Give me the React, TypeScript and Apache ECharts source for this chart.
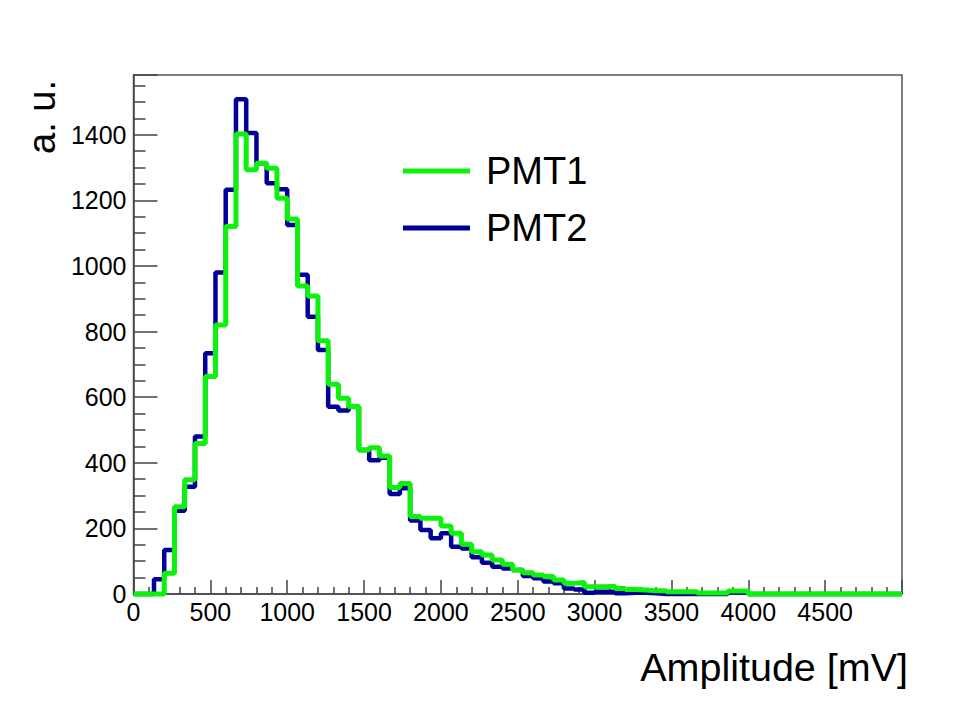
import React, { useEffect, useRef } from "react";
import * as echarts from "echarts";

// Histogram range and binning (75 bins from 0 to 5000 mV)
const histMin = 0;
const histMax = 5000;
const binCount = 75;

// PMT1 (green) bin contents
const pmt1Counts = [
  0, 0, 0, 63, 266, 348, 459, 663, 820, 1120,
  1402, 1293, 1313, 1298, 1206, 1143, 939, 908, 772, 639,
  597, 571, 439, 446, 421, 325, 337, 236, 231, 231,
  207, 185, 152, 129, 119, 104, 91, 73, 65, 58,
  53, 43, 33, 35, 22, 22, 24, 17, 14, 12,
  10, 10, 7, 7, 7, 3, 3, 3, 9, 9,
  0, 0, 0, 0, 0, 0, 0, 0, 0, 0,
  0, 0, 0, 0, 0,
];

// PMT2 (dark blue) bin contents
const pmt2Counts = [
  0, 0, 45, 134, 254, 327, 480, 734, 980, 1232,
  1508, 1405, 1313, 1252, 1234, 1125, 973, 845, 744, 571,
  559, 571, 439, 408, 415, 305, 322, 224, 195, 170,
  185, 144, 139, 112, 95, 83, 78, 73, 55, 48,
  38, 33, 17, 14, 4, 7, 7, 2, 4, 4,
  2, 0, 0, 0, 0, 0, 0, 0, 5, 5,
  0, 0, 0, 0, 0, 0, 0, 0, 0, 0,
  0, 0, 0, 0, 0,
];

const seriesNames = ["PMT1", "PMT2"];
const xTitle = "Amplitude [mV]";
const yTitle = "a. u.";
const yMax = 1582;

function stepData(counts: number[]): [number, number][] {
  const w = (histMax - histMin) / binCount;
  const pts: [number, number][] = counts.map((c, k) => [histMin + k * w, c]);
  pts.push([histMax, counts[counts.length - 1]]);
  return pts;
}

const FONT = "'Liberation Sans', Arial, Helvetica, sans-serif";

export default function App() {
  const ref = useRef<HTMLDivElement>(null);
  useEffect(() => {
    if (!ref.current) return;
    const chart = echarts.init(ref.current, undefined, { renderer: "svg" });
    const axisColor = "#444";
    chart.setOption({
      animation: false,
      backgroundColor: "#ffffff",
      grid: {
        left: 133.5,
        right: 58,
        top: 75,
        bottom: 126,
        show: true,
        borderColor: "#555",
        borderWidth: 1.5,
        backgroundColor: "transparent",
      },
      legend: {
        data: seriesNames,
        orient: "vertical",
        left: 403,
        top: 150,
        padding: 0,
        icon: "rect",
        itemWidth: 67,
        itemHeight: 5,
        itemGap: 15,
        textStyle: {
          fontFamily: FONT,
          fontSize: 38,
          color: "#000",
          lineHeight: 42,
          padding: [0, 0, 0, 11],
        },
      },
      xAxis: {
        type: "value",
        min: histMin,
        max: histMax,
        interval: 500,
        splitLine: { show: false },
        axisLine: { show: true, lineStyle: { color: axisColor, width: 1.5 } },
        axisTick: { show: true, inside: true, length: 14, lineStyle: { color: axisColor, width: 1.5 } },
        minorTick: { show: true, splitNumber: 5, length: 7, lineStyle: { color: axisColor, width: 1.5 } },
        axisLabel: {
          showMaxLabel: false,
          formatter: (v: number) => String(v),
          fontFamily: FONT,
          fontSize: 25,
          color: "#000",
          margin: 5,
        },
      },
      yAxis: {
        type: "value",
        min: 0,
        max: yMax,
        interval: 200,
        splitLine: { show: false },
        axisLine: { show: true, lineStyle: { color: axisColor, width: 1.5 } },
        axisTick: { show: true, inside: true, length: 24, lineStyle: { color: axisColor, width: 1.5 } },
        minorTick: { show: true, splitNumber: 4, length: 12, lineStyle: { color: axisColor, width: 1.5 } },
        axisLabel: {
          showMaxLabel: false,
          formatter: (v: number) => String(v),
          fontFamily: FONT,
          fontSize: 25,
          color: "#000",
          margin: 7,
        },
      },
      graphic: [
        {
          type: "text",
          x: 908,
          y: 667,
          style: {
            text: xTitle,
            fontFamily: FONT,
            fontSize: 39.5,
            fill: "#000",
            align: "right",
            verticalAlign: "middle",
          },
        },
        {
          type: "text",
          x: 42,
          y: 117,
          rotation: Math.PI / 2,
          style: {
            text: yTitle,
            fontFamily: FONT,
            fontSize: 38,
            fill: "#000",
            align: "center",
            verticalAlign: "middle",
          },
        },
      ],
      series: [
        {
          name: seriesNames[1],
          type: "line",
          step: "end",
          data: stepData(pmt2Counts),
          showSymbol: false,
          symbol: "none",
          clip: false,
          color: "#000099",
          itemStyle: { color: "#000099" },
          lineStyle: { color: "#000099", width: 4.5 },
          z: 3,
        },
        {
          name: seriesNames[0],
          type: "line",
          step: "end",
          data: stepData(pmt1Counts),
          showSymbol: false,
          symbol: "none",
          clip: false,
          color: "#0cf20c",
          itemStyle: { color: "#0cf20c" },
          lineStyle: { color: "#0cf20c", width: 5 },
          z: 4,
        },
      ],
    });
    return () => chart.dispose();
  }, []);
  return (
    <div
      ref={ref}
      style={{ position: "fixed", left: 0, top: 0, width: 960, height: 720, background: "#fff" }}
    />
  );
}
